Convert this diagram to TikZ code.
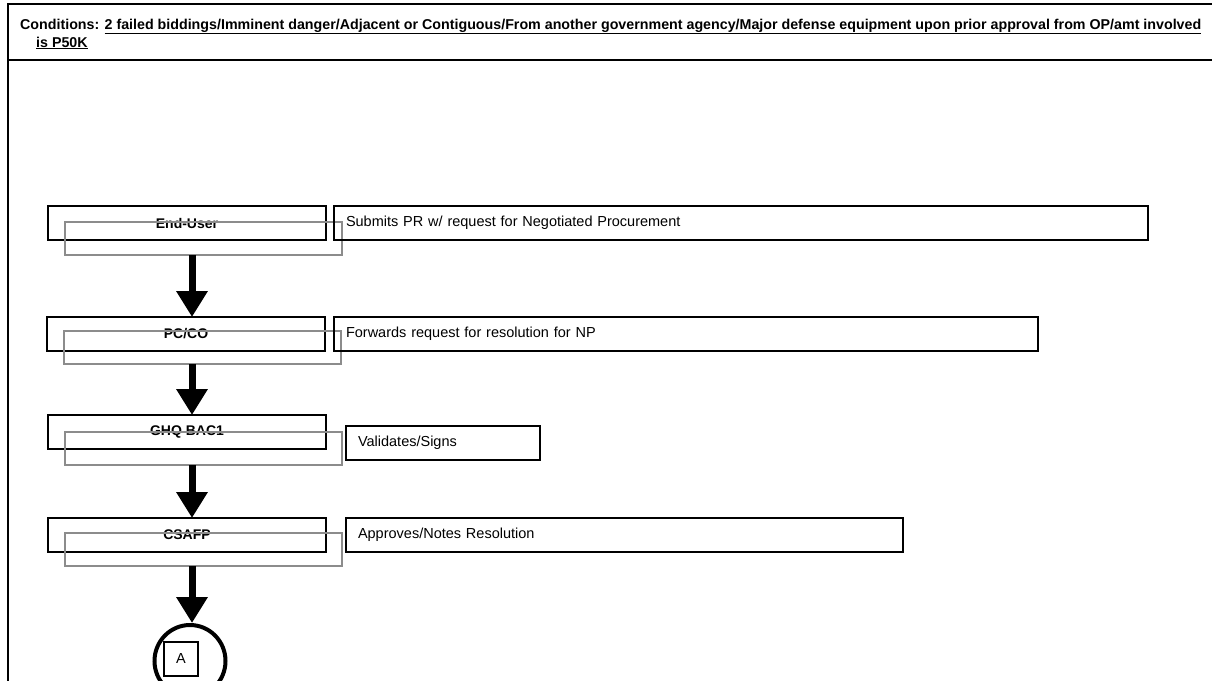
\documentclass[tikz,border=0pt]{standalone}
\usepackage{fontspec}
\setmainfont{Liberation Sans}
\usetikzlibrary{arrows.meta,shapes.geometric}
\begin{document}
\begin{tikzpicture}[x=1pt,y=-1pt,
  frame/.style={draw=black,line width=2pt},
  stepbox/.style={draw=black,line width=1.8pt,inner sep=0pt,outer sep=0pt,anchor=north west,minimum width=278pt,minimum height=34pt,font=\fontsize{14}{16}\selectfont\bfseries},
  shadowbox/.style={draw=black!45,line width=1.6pt,inner sep=0pt,outer sep=0pt,anchor=north west,minimum width=277pt,minimum height=33pt},
  descbox/.style={draw=black,line width=1.8pt,inner xsep=12pt,inner ysep=0pt,outer sep=0pt,anchor=north west,minimum height=34pt,align=left,font=\fontsize{14.5}{17}\selectfont},
  bigarrow/.style={line width=7pt,-{Triangle[width=30pt,length=26pt]}},
  conn/.style={draw,ellipse,line width=4pt,minimum width=71pt,minimum height=72pt,inner sep=0pt},
  hdr/.style={anchor=base west,inner sep=0pt,font=\fontsize{14.25}{16}\selectfont\bfseries}
]
\useasboundingbox (0,0) rectangle (1212,680);
\clip (0,0) rectangle (1212,680);
\fill[white] (0,0) rectangle (1212,680);
% frame
\draw[frame] (8,4) rectangle (1240,720);
\draw[frame] (8,60) -- (1240,60);
\node[hdr] (h1) at (20,29) {Conditions: \underline{2 failed biddings/Imminent danger/Adjacent or Contiguous/From another government agency/Major defense equipment upon prior approval from OP/amt involved}};
\node[hdr] (h2) at (36,47) {\underline{is P50K}};
% step 1
\node[stepbox] (b1) at (48,206) {End-User};
\node[shadowbox] (g1) at (65,222) {};
\node[descbox,text width=790pt] (d1) at (334,206) {Submits PR w/ request for Negotiated Procurement};
% step 2
\node[stepbox] (b2) at (47,317) {PC/CO};
\node[shadowbox] (g2) at (64,331) {};
\node[descbox,text width=680pt] (d2) at (334,317) {Forwards request for resolution for NP};
% step 3
\node[stepbox] (b3) at (48,415) {GHQ BAC1};
\node[shadowbox] (g3) at (65,432) {};
\node[descbox,text width=170pt] (d3) at (346,426) {Validates/Signs};
% step 4
\node[stepbox] (b4) at (48,518) {CSAFP};
\node[shadowbox] (g4) at (65,533) {};
\node[descbox,text width=533pt] (d4) at (346,518) {Approves/Notes Resolution};
% connector
\node[conn] (e) at (190,661) {};
\node[draw,line width=1.2pt,minimum size=34pt,inner sep=0pt,font=\fontsize{14.5}{17}\selectfont] (a) at (181,659) {A};
% arrows
\draw[bigarrow] (g1.south -| 192,0) -- (b2.north -| 192,0);
\draw[bigarrow] (g2.south -| 192,0) -- (b3.north -| 192,0);
\draw[bigarrow] (g3.south -| 192,0) -- (b4.north -| 192,0);
\draw[bigarrow] (g4.south -| 192,0) -- (e.north -| 192,0);
\end{tikzpicture}
\end{document}
